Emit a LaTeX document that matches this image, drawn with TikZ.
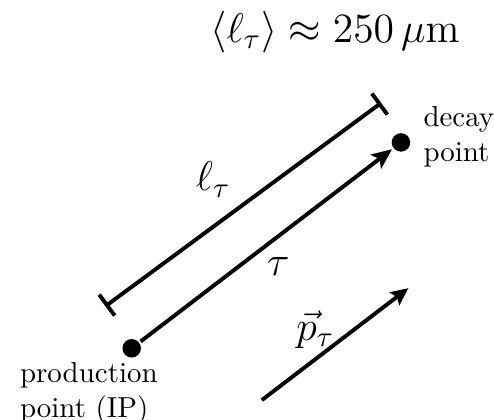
\documentclass[tikz,border=0pt]{standalone}
\usepackage{amssymb,amsmath}
\usetikzlibrary{arrows.meta}

\tikzset{
  vtx/.style={circle, fill=black, inner sep=0pt, minimum size=6.4pt},
  lbl/.style={font=\Large},
  txt/.style={align=left, inner sep=0pt},
}

\begin{document}
\begin{tikzpicture}[line width=1.35pt]
        \useasboundingbox (0,0) rectangle (6,5.09);
        % points
        \node [vtx] (prod) at (1.60,0.86) {};
        \node [vtx] (decay) at (4.87,3.36) {};
        \node [txt, anchor=north west] (prodtxt) at (0.22,0.71) {production\\point (IP)};
        \node [txt, anchor=west] (decaytxt) at (5.12,3.43) {decay\\point};
        % flight path
        \draw [-{Stealth[length=7pt,width=6pt,inset=1.5pt]}] (prod) -- (decay);
        \node [lbl] (tau) at (3.38,1.85) {$\tau$};
        % decay length
        \coordinate (l1) at (1.28,1.37);
        \coordinate (l2) at (4.63,3.84);
        \draw [{Bar[width=9pt]}-{Bar[width=9pt]}] (l1) -- (l2);
        \node [lbl] (ell) at (2.59,2.91) {$\ell_\tau$};
        % momentum
        \coordinate (p1) at (3.18,0.23);
        \coordinate (p2) at (4.96,1.59);
        \draw [-{Stealth[length=6pt,width=5.5pt,inset=1pt]}] (p1) -- (p2);
        \node [lbl] (mom) at (3.83,1.09) {$\vec{p}_\tau$};
        % mean decay length
        \node [lbl] (mean) at (4.07,4.70) {$\langle \ell_\tau \rangle \approx 250\,\mu\mathrm{m}$};
\end{tikzpicture}
\end{document}
